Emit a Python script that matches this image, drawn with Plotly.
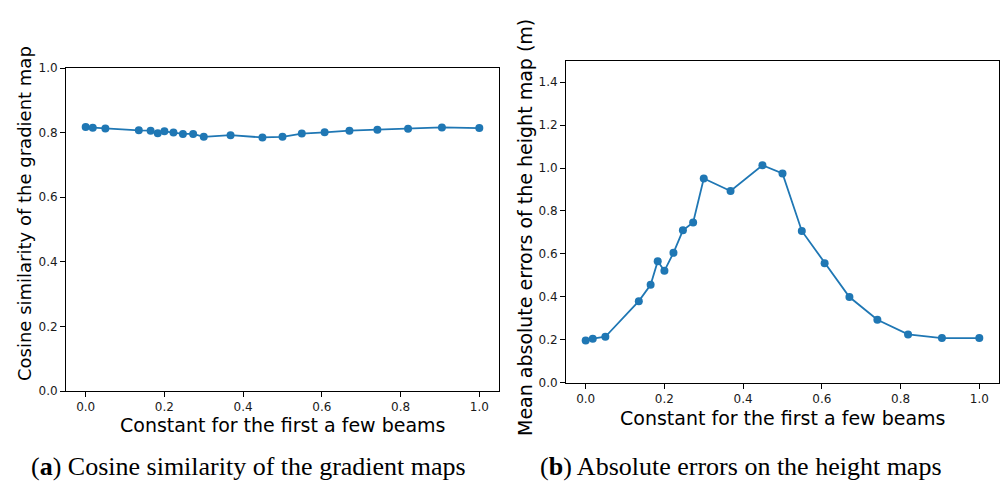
import plotly.graph_objects as go

# Data
const_values = [0.0, 0.018, 0.050, 0.135, 0.165, 0.183, 0.200, 0.223, 0.247, 0.273, 0.300,
                0.368, 0.449, 0.500, 0.549, 0.607, 0.670, 0.741, 0.819, 0.905, 1.0]
cosine_similarity = [0.817, 0.815, 0.813, 0.807, 0.806, 0.798, 0.804, 0.800, 0.796, 0.796, 0.787,
                     0.792, 0.785, 0.787, 0.797, 0.801, 0.806, 0.809, 0.812, 0.816, 0.814]
mean_abs_error = [0.197, 0.205, 0.214, 0.380, 0.456, 0.566, 0.521, 0.605, 0.710, 0.746, 0.951,
                  0.893, 1.013, 0.975, 0.707, 0.557, 0.399, 0.293, 0.225, 0.208, 0.208]

x_ticks = [0.0, 0.2, 0.4, 0.6, 0.8, 1.0]
left_y_ticks = [0.0, 0.2, 0.4, 0.6, 0.8, 1.0]
right_y_ticks = [0.0, 0.2, 0.4, 0.6, 0.8, 1.0, 1.2, 1.4]

x_title = "Constant for the first a few beams"
left_y_title = "Cosine similarity of the gradient map"
right_y_title = "Mean absolute errors of the height map (m)"
left_caption = "(<b>a</b>) Cosine similarity of the gradient maps"
right_caption = "(<b>b</b>) Absolute errors on the height maps"

W, H = 1000, 481
BLUE = "#1f77b4"

fig = go.Figure()
fig.add_trace(go.Scatter(x=const_values, y=cosine_similarity, mode="lines+markers",
                         line=dict(color=BLUE, width=1.8), marker=dict(color=BLUE, size=8),
                         xaxis="x", yaxis="y", showlegend=False))
fig.add_trace(go.Scatter(x=const_values, y=mean_abs_error, mode="lines+markers",
                         line=dict(color=BLUE, width=1.8), marker=dict(color=BLUE, size=8),
                         xaxis="x2", yaxis="y2", showlegend=False))

tickfont = dict(family="DejaVu Sans", size=12, color="#1a1a1a")
axis_common = dict(showgrid=False, zeroline=False, showline=True, linecolor="black",
                   linewidth=1, mirror=True, ticks="outside", ticklen=5, tickwidth=1,
                   tickcolor="black", tickfont=tickfont, automargin=False)

def px(xp):
    return xp / W

def py(yp):
    return 1 - yp / H

fig.update_layout(
    width=W, height=H,
    margin=dict(l=0, r=0, t=0, b=0, pad=0, autoexpand=False),
    paper_bgcolor="white", plot_bgcolor="white",
    xaxis=dict(domain=[px(66), px(499)], range=[-0.05, 1.05], tickvals=x_ticks,
               ticktext=[f"{v:.1f}" for v in x_ticks], anchor="y", **axis_common),
    yaxis=dict(domain=[py(391), py(68)], range=[0, 1.0], tickvals=left_y_ticks,
               ticktext=[f"{v:.1f}" for v in left_y_ticks], anchor="x", **axis_common),
    xaxis2=dict(domain=[px(566), px(999)], range=[-0.05, 1.05], tickvals=x_ticks,
                ticktext=[f"{v:.1f}" for v in x_ticks], anchor="y2", **axis_common),
    yaxis2=dict(domain=[py(382.7), py(60.7)], range=[0, 1.5], tickvals=right_y_ticks,
                ticktext=[f"{v:.1f}" for v in right_y_ticks], anchor="x2", **axis_common),
)

title_font = dict(family="DejaVu Sans", size=19, color="black")
left_ytitle_font = dict(family="DejaVu Sans", size=18, color="black")
cap_font = dict(family="Liberation Serif", size=26, color="black")

annots = [
    dict(text=x_title, x=px(282), y=py(424.5), font=title_font),
    dict(text=x_title, x=px(782), y=py(417.5), font=title_font),
    dict(text=left_y_title, x=px(24), y=py(214), font=left_ytitle_font, textangle=-90),
    dict(text=right_y_title, x=px(525), y=py(228), font=title_font, textangle=-90),
    dict(text=left_caption, x=px(248), y=py(466), font=cap_font),
    dict(text=right_caption, x=px(741), y=py(466), font=cap_font),
]
for a in annots:
    fig.add_annotation(xref="paper", yref="paper", showarrow=False,
                       xanchor="center", yanchor="middle", **a)

fig.write_html("out.html")
